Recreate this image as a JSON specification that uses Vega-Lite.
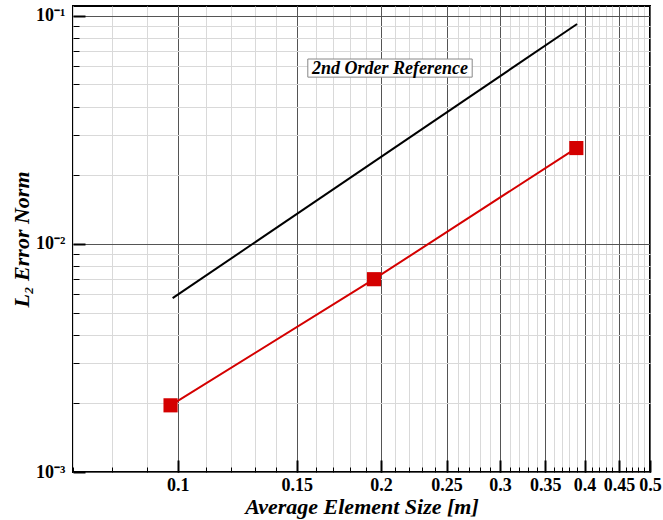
{
  "$schema": "https://vega.github.io/schema/vega-lite/v6.json",
  "width": 577,
  "height": 466,
  "autosize": "none",
  "padding": {"left": 73, "top": 6, "right": 13, "bottom": 48},
  "background": "white",
  "config": {
    "view": {"stroke": "black", "strokeWidth": 2},
    "font": "Liberation Serif",
    "axis": {"labelFont": "Liberation Serif", "titleFont": "Liberation Serif", "labelColor": "black", "titleColor": "black"}
  },
  "datasets": {
    "err": [
      {"h": 0.0976, "e": 0.00196},
      {"h": 0.1952, "e": 0.0070},
      {"h": 0.389, "e": 0.0263}
    ],
    "ref": [
      {"h": 0.0983, "e": 0.00578},
      {"h": 0.390, "e": 0.0920}
    ],
    "note": [
      {"x1": 0.1558, "x2": 0.2728, "y1": 0.0538, "y2": 0.0646, "xc": 0.2062, "yc": 0.0592, "text": "2nd Order Reference"}
    ]
  },
  "resolve": {"scale": {"x": "shared", "y": "shared"}, "axis": {"x": "independent", "y": "independent"}},
  "layer": [
    {
      "data": {"name": "ref"},
      "mark": {"type": "line", "color": "black", "strokeWidth": 2},
      "encoding": {
        "x": {
          "field": "h", "type": "quantitative",
          "scale": {"type": "log", "domain": [0.07, 0.5], "nice": false, "zero": false},
          "axis": {
            "orient": "bottom",
            "values": [0.07,0.08,0.09,0.1,0.11,0.12,0.13,0.14,0.15,0.16,0.17,0.18,0.19,0.2,0.21,0.22,0.23,0.24,0.25,0.26,0.27,0.28,0.29,0.3,0.31,0.32,0.33,0.34,0.35,0.36,0.37,0.38,0.39,0.4,0.41,0.42,0.43,0.44,0.45,0.46,0.47,0.48,0.49,0.5],
            "grid": true, "gridColor": "#d9d9d9", "gridWidth": 1, "gridOpacity": 1,
            "labels": false, "title": null, "domain": false,
            "ticks": true, "tickSize": -5, "tickColor": "black", "tickWidth": 1
          }
        },
        "y": {
          "field": "e", "type": "quantitative",
          "scale": {"type": "log", "domain": [0.001, 0.1103], "nice": false, "zero": false},
          "axis": {
            "orient": "left",
            "values": [0.002,0.003,0.004,0.005,0.006,0.007,0.008,0.009,0.02,0.03,0.04,0.05,0.06,0.07,0.08,0.09],
            "grid": true, "gridColor": "#d9d9d9", "gridWidth": 1, "gridOpacity": 1,
            "labels": false, "title": null, "domain": false,
            "ticks": true, "tickSize": -6, "tickColor": "black", "tickWidth": 1
          }
        }
      }
    },
    {
      "data": {"name": "note"},
      "mark": {"type": "rect", "fill": "white", "stroke": "#888888", "strokeWidth": 1},
      "encoding": {
        "x": {"field": "x1", "type": "quantitative", "axis": null},
        "x2": {"field": "x2"},
        "y": {"field": "y1", "type": "quantitative", "axis": null},
        "y2": {"field": "y2"}
      }
    },
    {
      "data": {"name": "note"},
      "mark": {"type": "text", "font": "Liberation Serif", "fontSize": 18, "fontWeight": "bold", "fontStyle": "italic", "color": "black", "align": "center", "baseline": "middle", "dy": 1},
      "encoding": {
        "x": {"field": "xc", "type": "quantitative", "axis": null},
        "y": {"field": "yc", "type": "quantitative", "axis": null},
        "text": {"field": "text"}
      }
    },
    {
      "data": {"name": "err"},
      "mark": {"type": "line", "color": "#d40000", "strokeWidth": 2},
      "encoding": {
        "x": {
          "field": "h", "type": "quantitative",
          "axis": {
            "orient": "bottom",
            "values": [0.1,0.15,0.2,0.25,0.3,0.35,0.4,0.45,0.5],
            "labelExpr": "format(datum.value, '.2~f')",
            "grid": true, "gridColor": "#555555", "gridWidth": 1, "gridOpacity": 1,
            "domain": false, "ticks": true, "tickSize": -12, "tickColor": "black", "tickWidth": 2,
            "labelFontSize": 18, "labelFontWeight": "bold", "labelPadding": 16, "labelFlush": false,
            "title": "Average Element Size [m]", "titleFontSize": 22, "titleFontWeight": "bold", "titleFontStyle": "italic",
            "titleY": 41, "titleBaseline": "alphabetic"
          }
        },
        "y": {
          "field": "e", "type": "quantitative",
          "axis": {
            "orient": "left",
            "values": [0.001, 0.01, 0.1],
            "labelExpr": "datum.value > 0.05 ? '10⁻¹' : datum.value > 0.005 ? '10⁻²' : '10⁻³'",
            "grid": true, "gridColor": "#555555", "gridWidth": 1, "gridOpacity": 1,
            "domain": false, "ticks": true, "tickSize": -12, "tickColor": "black", "tickWidth": 2,
            "labelFontSize": 18, "labelFontWeight": "bold", "labelPadding": 20, "labelFlush": false,
            "title": "L₂ Error Norm", "titleFontSize": 22, "titleFontWeight": "bold", "titleFontStyle": "italic", "titlePadding": 2
          }
        }
      }
    },
    {
      "data": {"name": "err"},
      "mark": {"type": "point", "shape": "square", "filled": true, "size": 200, "color": "#d40000", "opacity": 1},
      "encoding": {
        "x": {"field": "h", "type": "quantitative", "axis": null},
        "y": {"field": "e", "type": "quantitative", "axis": null}
      }
    }
  ]
}
